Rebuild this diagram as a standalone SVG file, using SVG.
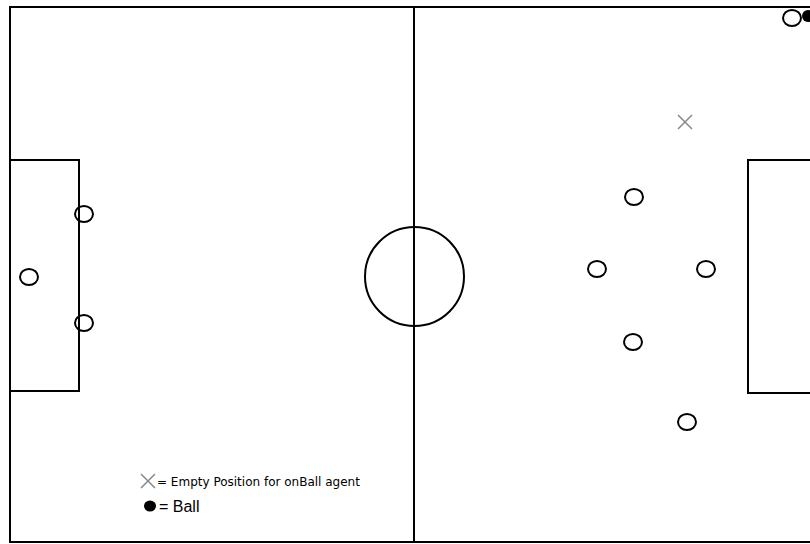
<svg xmlns="http://www.w3.org/2000/svg" width="810" height="544" viewBox="0 0 810 544">
<style>
.line{fill:none;stroke:#000;stroke-width:2}
.player{fill:none;stroke:#000;stroke-width:2}
.cross{stroke:#888;stroke-width:1.5}
.txt{font-family:"DejaVu Sans",sans-serif;fill:#000}
</style>
<rect width="810" height="544" fill="#fff"/>
<g id="pitch">
<path class="line" d="M10,7 H812 M10,6 V543 M9,542 H812 M414,7 V542"/>
<circle class="line" cx="414.5" cy="276.5" r="49.5"/>
<path class="line" d="M10,160 H79 V391 H10"/>
<path class="line" d="M812,160 H748 V393 H812"/>
</g>
<g id="players">
<ellipse class="player" cx="84" cy="214" rx="9" ry="8"/>
<ellipse class="player" cx="29" cy="277" rx="9" ry="8"/>
<ellipse class="player" cx="84" cy="323" rx="9" ry="8"/>
<ellipse class="player" cx="634" cy="197" rx="9" ry="8"/>
<ellipse class="player" cx="597" cy="269" rx="9" ry="8"/>
<ellipse class="player" cx="706" cy="269" rx="9" ry="8"/>
<ellipse class="player" cx="633" cy="342" rx="9" ry="8"/>
<ellipse class="player" cx="687" cy="422" rx="9" ry="8"/>
<ellipse class="player" cx="792" cy="18" rx="9" ry="8"/>
</g>
<g id="ball"><ellipse cx="808" cy="16" rx="6" ry="6" fill="#000"/></g>
<g id="empty-position"><path class="cross" d="M678,115 L692,129 M692,115 L678,129"/></g>
<g id="legend">
<path class="cross" d="M141,474 L155,488 M155,474 L141,488"/>
<text class="txt" x="157" y="486" font-size="12">= Empty Position for onBall agent</text>
<ellipse cx="150" cy="506" rx="6" ry="5.5" fill="#000"/>
<text x="159" y="512" font-size="16" font-family="'Liberation Sans',Arial,sans-serif">= Ball</text>
</g>
</svg>
